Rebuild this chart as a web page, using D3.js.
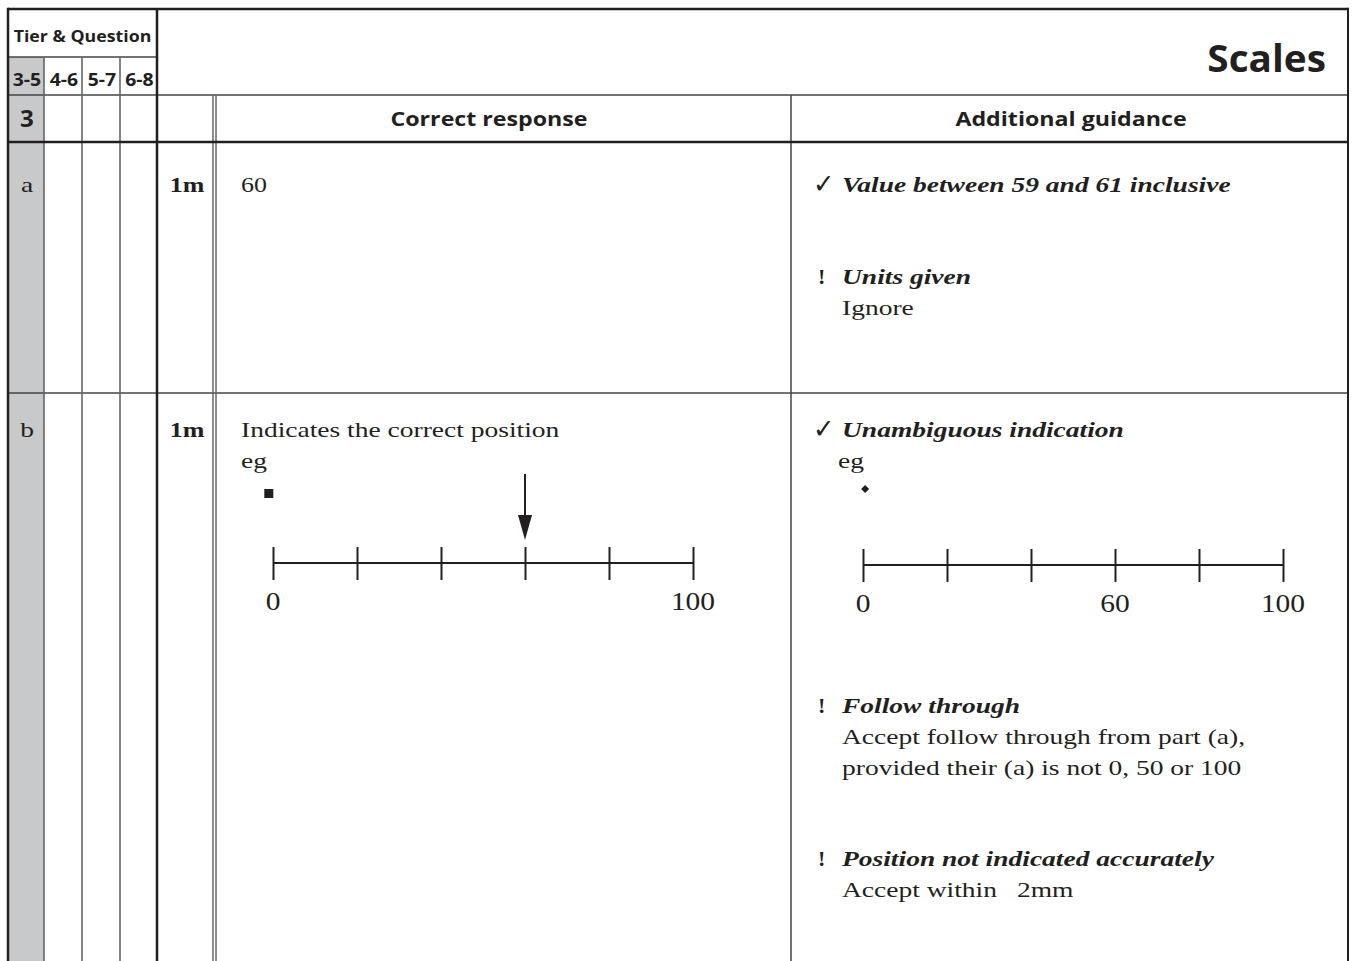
<!DOCTYPE html>
<html><head><meta charset="utf-8">
<script src="https://cdn.jsdelivr.net/npm/d3@7"></script>
<style>html,body{margin:0;padding:0;background:#fff;}svg{display:block}</style>
</head><body>
<svg id="c" width="1355" height="961"></svg>
<script>
// ---- data ----
const title = "Scales";
const tierHeader = "Tier & Question";
const tiers = ["3-5", "4-6", "5-7", "6-8"];
const questionNo = "3";
const parts = ["a", "b"];
const marks = ["1m", "1m"];
const headers = ["Correct response", "Additional guidance"];
const responseA = "60";
const responseB = ["Indicates the correct position", "eg"];
const guidanceA = [
  {sym: "\u2713", head: "Value between 59 and 61 inclusive", body: []},
  {sym: "!", head: "Units given", body: ["Ignore"]}
];
const guidanceB = [
  {sym: "\u2713", head: "Unambiguous indication", body: []},
  {sym: "!", head: "Follow through", body: ["Accept follow through from part (a),", "provided their (a) is not 0, 50 or 100"]},
  {sym: "!", head: "Position not indicated accurately", body: ["Accept within", "2mm"]}
];
const scaleTicks = [0, 20, 40, 60, 80, 100];
const responseTickLabels = [0, 100];
const guidanceTickLabels = [0, 60, 100];
const arrowValue = 60;
const squareMarkValue = -1;
const diamondMarkValue = 0.5;

// ---- drawing ----
const svg = d3.select("#c");
const SANS = "'Open Sans', 'Noto Sans', sans-serif";
const SERIF = "'Liberation Serif', 'DejaVu Serif', serif";
const SERIF_K = 1.25, SANS_K = 1.16;
const INK = "#231f20";

// geometry of table
const X = {L: 8, c1: 44, c2: 82, c3: 120, c4: 157, d1: 213, d2: 216, g: 791, R: 1348};
const Y = {T: 9, h1: 57, h2: 95, h3: 142, rA: 393, B: 961};

function txt(g, x, y, s, o) {
  o = o || {};
  const k = o.k || 1;
  const t = g.append("text")
    .attr("transform", `translate(${x},${y}) scale(${k},1)`)
    .attr("font-family", o.family || SERIF)
    .attr("font-size", o.size || 23)
    .attr("font-weight", o.weight || "normal")
    .attr("font-style", o.style || "normal")
    .attr("text-anchor", o.anchor || "start")
    .attr("fill", INK)
    .text(s);
  return t;
}
const serif = (x, y, s, o) => txt(svg, x, y, s, Object.assign({family: SERIF, k: SERIF_K, size: 22}, o || {}));
const sans = (x, y, s, o) => txt(svg, x, y, s, Object.assign({family: SANS, k: SANS_K, weight: "bold", size: 18}, o || {}));

// gray fill of first column
svg.append("rect").attr("x", X.L).attr("y", Y.h1).attr("width", X.c1 - X.L).attr("height", Y.B - Y.h1).attr("fill", "#c8c9cb");

const lines = svg.append("g").attr("fill", "none");
function ln(x1, y1, x2, y2, w, c) {
  lines.append("line").attr("x1", x1).attr("y1", y1).attr("x2", x2).attr("y2", y2)
    .attr("stroke", c || "#555").attr("stroke-width", w || 1.5);
}
// thin inner lines
ln(X.L, Y.h1, X.c4, Y.h1, 1.5, "#444");
ln(X.L, Y.h2, X.R, Y.h2, 1.5, "#444");
ln(X.L, Y.rA, X.R, Y.rA, 1.5, "#444");
[X.c1, X.c2, X.c3].forEach(x => ln(x, Y.h1, x, Y.B, 1.6, "#666"));
ln(X.d1, Y.h2, X.d1, Y.B, 1.5, "#666");
ln(X.d2, Y.h2, X.d2, Y.B, 1.5, "#666");
ln(X.g, Y.h2, X.g, Y.B, 1.5, "#444");
// thick lines
ln(X.L, Y.T, X.R, Y.T, 2.5, INK);
ln(X.L, Y.h3, X.R, Y.h3, 2.5, INK);
ln(X.L, Y.T - 1.2, X.L, Y.B, 2.5, INK);
ln(X.R, Y.T - 1.2, X.R, Y.B, 2, INK);
ln(X.c4, Y.T, X.c4, Y.B, 2.5, INK);

// header texts
sans((X.L + X.c4) / 2, 42, tierHeader, {anchor: "middle", size: 16, k: 1.11});
const tierX = [X.L, X.c1, X.c2, X.c3, X.c4];
tiers.forEach((t, i) => sans((tierX[i] + tierX[i + 1]) / 2 + 1, 86, t, {anchor: "middle", size: 18, k: 1.08}));
sans(1326, 72, title, {anchor: "end", size: 38, k: 1.02});
sans((X.L + X.c1) / 2 + 1, 127, questionNo, {anchor: "middle", size: 23, k: 1.05});
sans(489, 126, headers[0], {anchor: "middle", size: 20, k: SANS_K});
sans(1071, 126, headers[1], {anchor: "middle", size: 20, k: SANS_K});

// part labels and marks
const partY = [192, 437];
parts.forEach((p, i) => {
  serif((X.L + X.c1) / 2 + 1, partY[i], p, {anchor: "middle"});
  serif((X.c4 + X.d1) / 2 + 2, partY[i], marks[i], {anchor: "middle", weight: "bold", k: 1.18});
});

// correct responses
serif(241, 192, responseA, {k: 1.18});
serif(241, 437, responseB[0]);
serif(241, 468, responseB[1]);

// guidance text blocks
function guidance(item, y, bodyLead) {
  const isCheck = item.sym === "\u2713";
  if (isCheck) txt(svg, 813, y + 1, item.sym, {family: "'DejaVu Sans', sans-serif", size: 27, weight: "bold", k: 0.95});
  else serif(818, y, item.sym, {weight: "bold", k: 1});
  serif(842, y, item.head, {weight: "bold", style: "italic"});
  item.body.forEach((b, j) => {
    if (item.head.startsWith("Position") && j === 1) serif(1017, y + bodyLead, b);
    else serif(842, y + bodyLead * (j + 1), b);
  });
}
guidance(guidanceA[0], 192, 31);
guidance(guidanceA[1], 284, 31);
guidance(guidanceB[0], 437, 31);
serif(838, 468, "eg");
guidance(guidanceB[1], 713, 31);
guidance(guidanceB[2], 866, 31);

// number lines
function numberLine(x0, x1, y, labels, labelY) {
  const x = d3.scaleLinear().domain([0, 100]).range([x0, x1]);
  const g = svg.append("g").attr("transform", `translate(0,${y})`);
  const ax = d3.axisBottom(x).tickValues(scaleTicks).tickSize(0).tickFormat("");
  g.call(ax);
  g.select(".domain").attr("d", `M${x0},0H${x1}`).attr("stroke", INK).attr("stroke-width", 2);
  g.selectAll(".tick line").attr("y1", -16).attr("y2", 17).attr("stroke", INK).attr("stroke-width", 2);
  g.selectAll(".tick text").remove();
  labels.forEach(v => serif(x(v), y + labelY, String(v), {anchor: "middle", size: 25, k: 1.18}));
  return x;
}
const xr = numberLine(273, 693, 563, responseTickLabels, 47);
const xg = numberLine(863, 1283, 565, guidanceTickLabels, 47);

// arrow on response line
const ax = xr(arrowValue);
svg.append("line").attr("x1", ax).attr("y1", 474).attr("x2", ax).attr("y2", 520).attr("stroke", INK).attr("stroke-width", 2);
svg.append("path").attr("d", `M${ax - 7},515L${ax + 7},515L${ax},540Z`).attr("fill", INK);
// markers
svg.append("rect").attr("x", xr(squareMarkValue) - 4.5).attr("y", 489).attr("width", 9).attr("height", 9).attr("fill", INK);
const dx = xg(diamondMarkValue);
svg.append("path").attr("d", `M${dx},485L${dx + 4},489L${dx},493L${dx - 4},489Z`).attr("fill", INK);
</script>
</body></html>
